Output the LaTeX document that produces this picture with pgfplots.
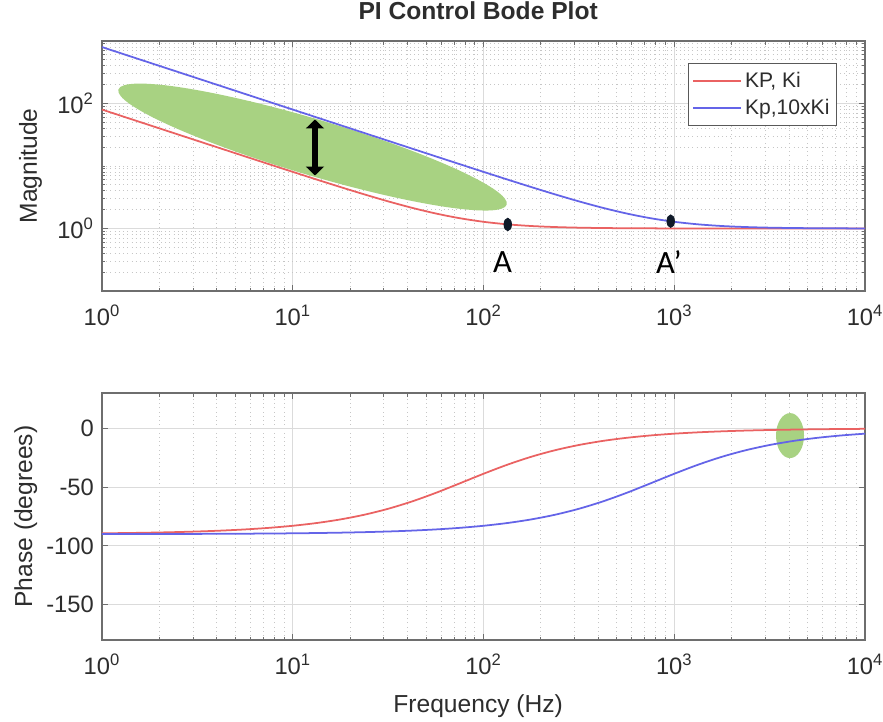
\documentclass[border=0pt]{standalone}
\usepackage{pgfplots}
\pgfplotsset{compat=1.18}
\usepackage{pgfplotstable}
\usepackage{fontspec}
\setmainfont{Liberation Sans}
\newfontfamily\calib{Carlito}
\usetikzlibrary{arrows.meta}
\definecolor{cred}{RGB}{234,98,98}
\definecolor{cblue}{RGB}{100,100,232}
\definecolor{cgreen}{RGB}{168,210,130}
\definecolor{cframe}{RGB}{110,110,110}
\definecolor{ctext}{RGB}{45,45,45}
\definecolor{cdot}{RGB}{15,25,40}

\pgfplotstableread{
f mag ph
1 80.006 -89.284
1.3335 59.99 -89.045
1.7783 45.0 -88.727
2.3714 33.75 -88.302
3.1623 25.318 -87.736
4.2170 18.997 -86.983
5.6234 14.261 -85.979
7.4989 10.715 -84.645
10 8.062 -82.875
13.335 6.082 -80.538
17.783 4.608 -77.47
23.714 3.519 -73.49
31.623 2.720 -68.43
42.170 2.1445 -62.20
56.234 1.739 -54.90
74.989 1.4623 -46.85
100 1.2806 -38.66
133.35 1.1662 -30.96
177.83 1.0965 -24.22
237.14 1.0554 -18.64
316.23 1.0315 -14.20
421.70 1.0178 -10.74
562.34 1.0101 -8.10
749.89 1.0057 -6.09
1000 1.0032 -4.57
1333.5 1.0018 -3.43
1778.3 1.0010 -2.58
2371.4 1.0006 -1.93
3162.3 1.0003 -1.45
4217.0 1.0002 -1.09
5623.4 1.0001 -0.815
7498.9 1.0001 -0.611
10000 1.0000 -0.458
}\redtab

\pgfplotstableread{
f mag ph
1 800.0 -89.928
1.3335 599.9 -89.904
1.7783 449.9 -89.873
2.3714 337.35 -89.830
3.1623 252.98 -89.774
4.2170 189.71 -89.698
5.6234 142.26 -89.597
7.4989 106.68 -89.463
10 80.006 -89.284
13.335 59.99 -89.045
17.783 45.0 -88.727
23.714 33.75 -88.302
31.623 25.318 -87.736
42.170 18.997 -86.983
56.234 14.261 -85.979
74.989 10.715 -84.645
100 8.062 -82.875
133.35 6.082 -80.538
177.83 4.608 -77.47
237.14 3.519 -73.49
316.23 2.720 -68.43
421.70 2.1445 -62.20
562.34 1.739 -54.90
749.89 1.4623 -46.85
1000 1.2806 -38.66
1333.5 1.1662 -30.96
1778.3 1.0965 -24.22
2371.4 1.0554 -18.64
3162.3 1.0315 -14.20
4217.0 1.0178 -10.74
5623.4 1.0101 -8.10
7498.9 1.0057 -6.09
10000 1.0032 -4.57
}\bluetab

\pgfplotsset{
  bodebase/.style={
    scale only axis, width=15.26cm,
    xmin=1, xmax=10000,
    xtick={1,10,100,1000,10000},
    xticklabels={10\textsuperscript{0},10\textsuperscript{1},10\textsuperscript{2},10\textsuperscript{3},10\textsuperscript{4}},
    minor xtick={2,3,4,5,6,7,8,9,20,30,40,50,60,70,80,90,200,300,400,500,600,700,800,900,2000,3000,4000,5000,6000,7000,8000,9000},
    tick align=inside,
    major tick length=0.12cm, minor tick length=0.07cm,
    every tick/.style={cframe, line width=0.5pt},
    axis line style={cframe, line width=0.8pt},
    grid=both,
    major grid style={gray!28, line width=0.6pt},
    minor grid style={gray!45, dotted, line width=0.5pt},
    tick label style={font=\fontsize{13.5}{16}\selectfont, text=ctext},
    xticklabel style={yshift=-0.16cm},
    yticklabel style={xshift=-0.04cm},
    label style={font=\fontsize{14}{17}\selectfont, text=ctext},
    axis background/.style={fill=white},
  }
}

\begin{document}
\begin{tikzpicture}
\useasboundingbox (-2.04,0.82) rectangle (15.62,-13.6);
% ---------- Magnitude ----------
\begin{loglogaxis}[bodebase,
  at={(0,0)}, anchor=north west,
  height=5.0cm,
  ymin=0.1, ymax=1000,
  ytick={1,100},
  yticklabels={10\textsuperscript{0},10\textsuperscript{2}},
  minor ytick={0.2,0.3,0.4,0.5,0.6,0.7,0.8,0.9,2,3,4,5,6,7,8,9,10,20,30,40,50,60,70,80,90,200,300,400,500,600,700,800,900},
  ylabel={Magnitude},
  ylabel style={at={(axis description cs:-0.0937,0.5)}, anchor=center},
  title={\bfseries PI Control Bode Plot},
  title style={at={(axis description cs:0.493,1)}, anchor=base, yshift=0.22cm, font=\fontsize{14}{17}\selectfont, text=ctext},
  legend style={at={(axis description cs:1,1)}, anchor=north east, xshift=-0.56cm, yshift=-0.44cm,
    draw=black!65, line width=0.6pt, fill=white, font=\fontsize{12}{14}\selectfont, text=ctext,
    inner xsep=2pt, inner ysep=3pt, row sep=1pt, cells={anchor=west}},
  legend image code/.code={\draw[#1] (0cm,0cm) -- (0.95cm,0cm);},
]
\fill[cgreen, rotate around={-16.5:(axis cs:12.70,20.1)}] (axis cs:12.70,20.1) ellipse [x radius=4.05cm, y radius=0.56cm];
\addplot[cred, line width=1pt, smooth] table[x=f, y=mag] {\redtab};
\addlegendentry{KP, Ki}
\addplot[cblue, line width=1pt, smooth] table[x=f, y=mag] {\bluetab};
\addlegendentry{Kp,10xKi}
\addplot[only marks, mark=*, mark size=3.6pt, color=cdot, mark options={xscale=0.6, fill=cdot}, forget plot] coordinates {(134,1.16) (958,1.31)};
\draw[black, line width=3pt, {Triangle[length=5pt,width=10pt]}-{Triangle[length=5pt,width=10pt]}] (axis cs:13.08,55.5) -- (axis cs:13.08,7.05);
\node[font=\calib\fontsize{18.5}{21}\selectfont, text=black, inner sep=0pt] at (axis cs:126,0.291) {A};
\node[font=\calib\fontsize{18.5}{21}\selectfont, text=black, inner sep=0pt] at (axis cs:938,0.291) {A’};
\end{loglogaxis}
% ---------- Phase ----------
\begin{semilogxaxis}[bodebase,
  at={(0,-7.04cm)}, anchor=north west,
  height=4.94cm,
  ymin=-180, ymax=30,
  ytick={-150,-100,-50,0},
  yticklabels={-150,-100,-50,0},
  ylabel={Phase (degrees)},
  ylabel style={at={(axis description cs:-0.100,0.5)}, anchor=center},
  xlabel={Frequency (Hz)},
  xlabel style={at={(axis description cs:0.493,0)}, anchor=base, yshift=-1.44cm},
]
\fill[cgreen] (axis cs:4045,-6.2) ellipse [x radius=0.28cm, y radius=0.45cm];
\addplot[cred, line width=1pt, smooth] table[x=f, y=ph] {\redtab};
\addplot[cblue, line width=1pt, smooth] table[x=f, y=ph] {\bluetab};
\end{semilogxaxis}
\end{tikzpicture}
\end{document}
